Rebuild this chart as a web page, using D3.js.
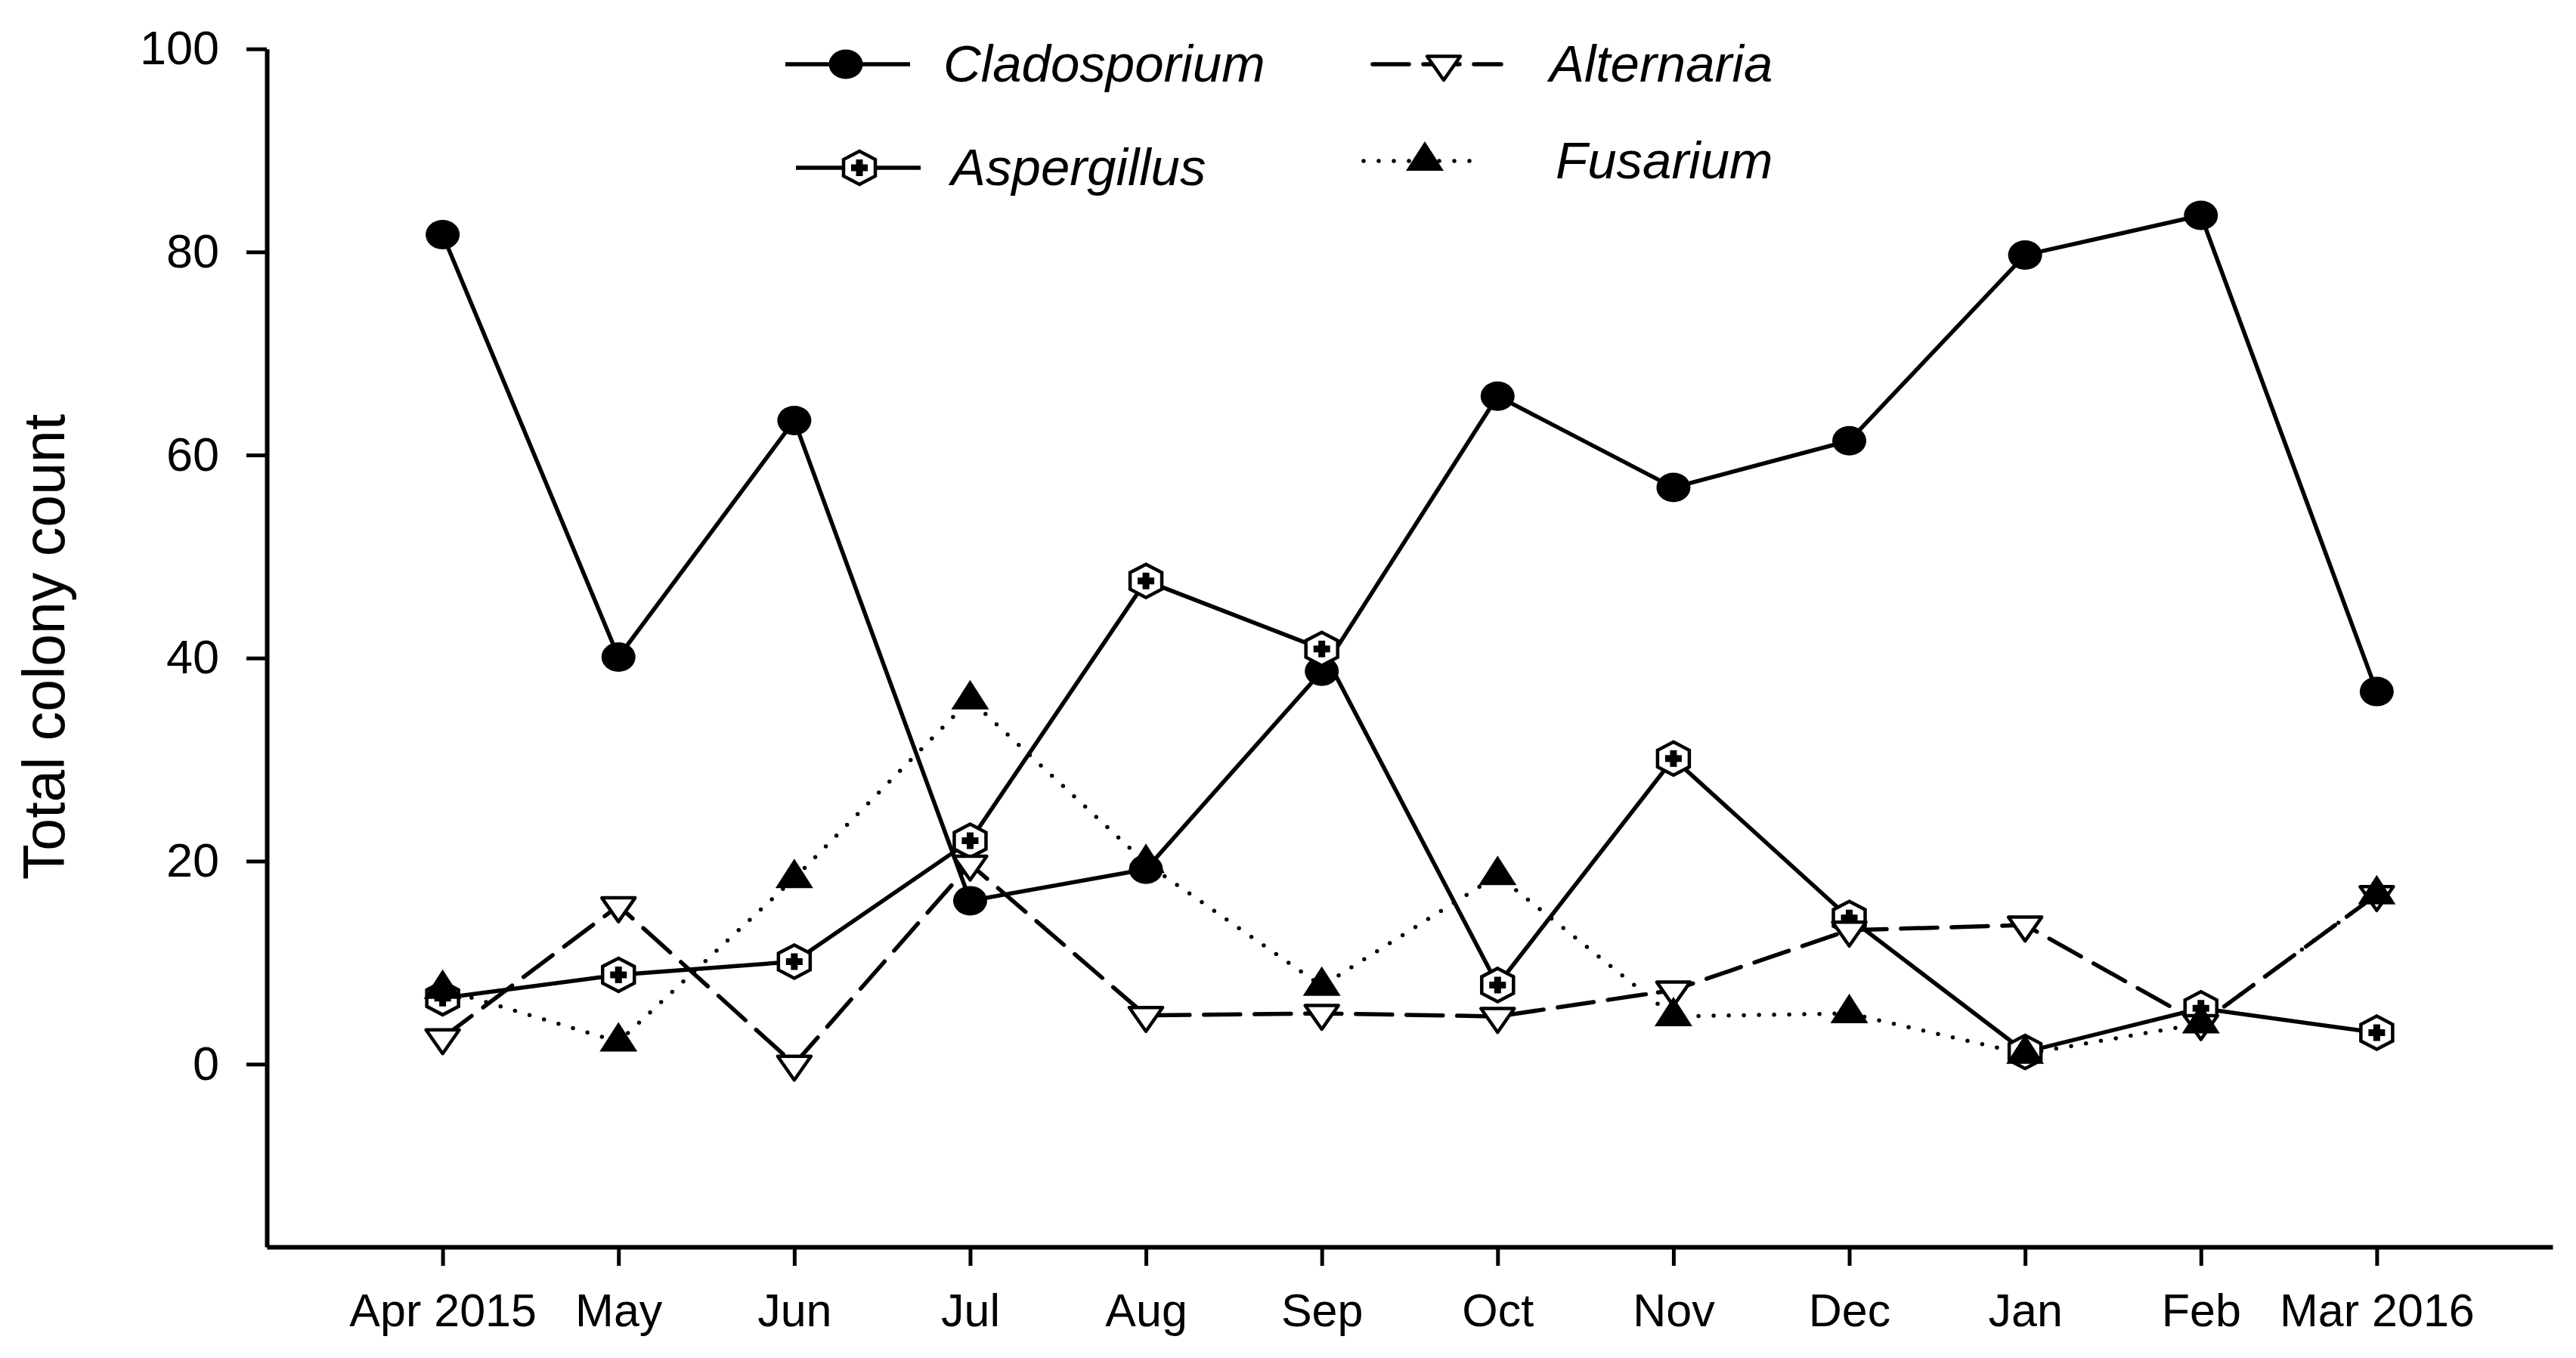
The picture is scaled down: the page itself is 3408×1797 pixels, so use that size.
<!DOCTYPE html>
<html>
<head>
<meta charset="utf-8">
<script src="https://cdn.jsdelivr.net/npm/d3@7"></script>
<style>
  body { margin: 0; background: #fff; }
  text { font-family: "Liberation Sans", Arial, sans-serif; fill: #000; }
</style>
</head>
<body>
<div id="chart"></div>
<script>
var months = ['Apr 2015', 'May', 'Jun', 'Jul', 'Aug', 'Sep', 'Oct', 'Nov', 'Dec', 'Jan', 'Feb', 'Mar 2016'];
var cladosporium = [81.7, 40.1, 63.4, 16.1, 19.2, 38.7, 65.8, 56.8, 61.4, 79.7, 83.6, 36.7];
var aspergillus  = [6.5, 8.8, 10.1, 22.0, 47.6, 40.9, 7.8, 30.1, 14.4, 1.2, 5.5, 3.1];
var alternaria   = [2.6, 15.6, 0, 19.7, 4.8, 5.0, 4.7, 7.3, 13.2, 13.7, 4.0, 16.7];
var fusarium     = [7.4, 2.2, 18.3, 35.9, 19.8, 7.7, 18.6, 4.7, 5.0, 1.0, 4.0, 16.7];
var yTicks = [0, 20, 40, 60, 80, 100];
var yDomain = [-18, 100];

var W = 3408, H = 1797;

// marker shapes, centred on the data point
function ellipse() {
  return 'M-22.5,0a22.5,19.5 0 1,0 45,0a22.5,19.5 0 1,0 -45,0Z';
}
function hexagon() {
  return 'M0,-22L21,-11L21,11L0,22L-21,11L-21,-11Z';
}
function plus() {
  return 'M-4.5,-11H4.5V-4.5H11V4.5H4.5V11H-4.5V4.5H-11V-4.5H-4.5Z';
}
function triUp() {
  return 'M0,-26L25,13L-25,13Z';
}
function triDown() {
  return 'M-22,-10.5L22,-10.5L0,21Z';
}

var series = [
  {name: 'Cladosporium', values: cladosporium, dash: null, marker: 'circle'},
  {name: 'Aspergillus', values: aspergillus, dash: null, marker: 'hex'},
  {name: 'Alternaria', values: alternaria, dash: '48,19', marker: 'down'},
  {name: 'Fusarium', values: fusarium, dash: '0,20', marker: 'up'}
];

var svg = d3.select('#chart').append('svg')
  .attr('width', W)
  .attr('height', H)
  .style('display', 'block');

var x = d3.scalePoint()
  .domain(months)
  .range([353, 3377])
  .padding(1);

var y = d3.scaleLinear()
  .domain(yDomain)
  .range([1650, 64.7]);

// axes
var yAxis = svg.append('g')
  .attr('transform', 'translate(353,0)')
  .call(d3.axisLeft(y).tickValues(yTicks).tickSize(27).tickSizeOuter(0).tickPadding(36));
yAxis.select('.domain').attr('stroke-width', 6);
yAxis.selectAll('.tick line').attr('stroke-width', 5);
yAxis.selectAll('.tick text')
  .attr('font-size', 63)
  .attr('font-family', '"Liberation Sans", Arial, sans-serif');

var xAxis = svg.append('g')
  .attr('transform', 'translate(0,1650)')
  .call(d3.axisBottom(x).tickSize(25).tickSizeOuter(0).tickPadding(37));
xAxis.select('.domain').attr('stroke-width', 6);
xAxis.selectAll('.tick line').attr('stroke-width', 5);
xAxis.selectAll('.tick text')
  .attr('font-size', 61)
  .attr('font-family', '"Liberation Sans", Arial, sans-serif');

svg.append('text')
  .attr('transform', 'translate(85,856) rotate(-90)')
  .attr('text-anchor', 'middle')
  .attr('font-size', 77)
  .text('Total colony count');

// lines
var line = d3.line()
  .x(function(d, i) { return x(months[i]); })
  .y(function(d) { return y(d); });

svg.append('g').selectAll('path')
  .data(series)
  .enter().append('path')
    .attr('d', function(s) { return line(s.values); })
    .attr('fill', 'none')
    .attr('stroke', '#000')
    .attr('stroke-width', 5.5)
    .attr('stroke-linecap', function(s) { return s.marker === 'solid' ? 'butt' : 'round'; })
    .attr('stroke-dasharray', function(s) { return s.dash; });

function drawMarker(g, kind) {
  if (kind === 'circle') {
    g.append('path').attr('d', ellipse()).attr('fill', '#000');
  } else if (kind === 'hex') {
    g.append('path').attr('d', hexagon())
      .attr('fill', '#fff').attr('stroke', '#000').attr('stroke-width', 4.5);
    g.append('path').attr('d', plus()).attr('fill', '#000');
  } else if (kind === 'down') {
    g.append('path').attr('d', triDown())
      .attr('fill', '#fff').attr('stroke', '#000').attr('stroke-width', 4.5)
      .attr('stroke-linejoin', 'round');
  } else {
    g.append('path').attr('d', triUp()).attr('fill', '#000');
  }
}

// markers
series.forEach(function(s) {
  var g = svg.append('g');
  s.values.forEach(function(v, i) {
    var m = g.append('g').attr('transform', 'translate(' + x(months[i]) + ',' + y(v) + ')');
    drawMarker(m, s.marker);
  });
});

// legend
var legendPos = [
  {x0: 1039, x1: 1204, mx: 1119, ty: 85, tx: 1248},
  {x0: 1053, x1: 1218, mx: 1137, ty: 222, tx: 1258},
  {x0: 1816, x1: 1986, mx: 1910, ty: 85, tx: 2050},
  {x0: 1804, x1: 1964, mx: 1885, ty: 213, tx: 2058}
];

var legend = svg.append('g');
series.forEach(function(s, i) {
  var p = legendPos[i];
  legend.append('line')
    .attr('x1', p.x0).attr('x2', p.x1)
    .attr('y1', p.ty).attr('y2', p.ty)
    .attr('stroke', '#000')
    .attr('stroke-width', 5.5)
    .attr('stroke-linecap', s.dash ? 'round' : 'butt')
    .attr('stroke-dasharray', s.dash);
  drawMarker(legend.append('g').attr('transform', 'translate(' + p.mx + ',' + p.ty + ')'), s.marker);
  legend.append('text')
    .attr('x', p.tx)
    .attr('y', p.ty + 23)
    .attr('font-size', 69)
    .attr('font-style', 'italic')
    .text(s.name);
});
</script>
</body>
</html>
